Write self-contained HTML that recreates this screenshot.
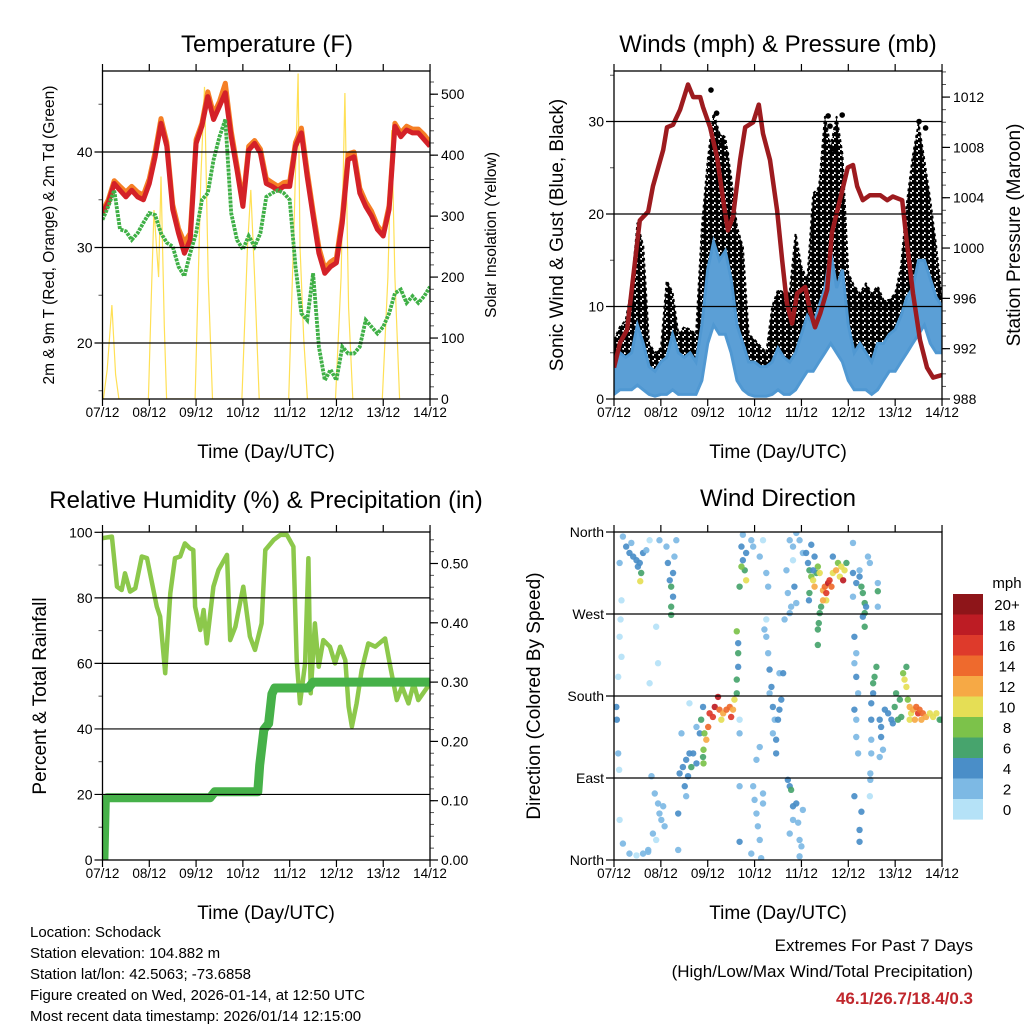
<!DOCTYPE html>
<html><head><meta charset="utf-8"><style>
html,body{margin:0;padding:0;background:#fff;}
#wrap{position:relative;width:1024px;height:1024px;overflow:hidden;font-family:"Liberation Sans",sans-serif;}
svg text{font-family:"Liberation Sans",sans-serif;}
</style></head><body>
<div id="wrap">
<svg id="chart" width="1024" height="1024" viewBox="0 0 1024 1024" xmlns="http://www.w3.org/2000/svg">
<defs>
<clipPath id="c1"><rect x="102.5" y="71" width="327.5" height="328"/></clipPath>
<clipPath id="c2"><rect x="614" y="71" width="328" height="328"/></clipPath>
<clipPath id="c3"><rect x="102.5" y="532" width="327.5" height="328"/></clipPath>
<clipPath id="c4"><rect x="614" y="532" width="328" height="328"/></clipPath>
<pattern id="dots" x="0" y="0" width="6" height="6" patternUnits="userSpaceOnUse">
<circle cx="1.5" cy="1.5" r="2.9" fill="#000"/><circle cx="4.5" cy="4.5" r="2.9" fill="#000"/>
</pattern>
</defs>
<text x="267" y="52" font-size="24" text-anchor="middle">Temperature (F)</text>
<text x="778" y="52" font-size="24" text-anchor="middle">Winds (mph) &amp; Pressure (mb)</text>
<text x="266" y="508" font-size="24" text-anchor="middle">Relative Humidity (%) &amp; Precipitation (in)</text>
<text x="778" y="506" font-size="24" text-anchor="middle">Wind Direction</text>
<text x="266" y="458" font-size="19" text-anchor="middle">Time (Day/UTC)</text>
<text x="778" y="458" font-size="19" text-anchor="middle">Time (Day/UTC)</text>
<text x="266" y="919" font-size="19" text-anchor="middle">Time (Day/UTC)</text>
<text x="778" y="919" font-size="19" text-anchor="middle">Time (Day/UTC)</text>
<text transform="translate(54,235) rotate(-90)" font-size="15.5" text-anchor="middle">2m &amp; 9m T (Red, Orange) &amp; 2m Td (Green)</text>
<text transform="translate(496,235) rotate(-90)" font-size="15.5" text-anchor="middle">Solar Insolation (Yellow)</text>
<text transform="translate(563,235) rotate(-90)" font-size="19" text-anchor="middle">Sonic Wind &amp; Gust (Blue, Black)</text>
<text transform="translate(1020,235) rotate(-90)" font-size="19" text-anchor="middle">Station Pressure (Maroon)</text>
<text transform="translate(46,696) rotate(-90)" font-size="19" text-anchor="middle">Percent &amp; Total Rainfall</text>
<text transform="translate(540,696) rotate(-90)" font-size="19" text-anchor="middle">Direction (Colored By Speed)</text>
<g font-size="15">
<text x="30" y="937">Location: Schodack</text>
<text x="30" y="958">Station elevation: 104.882 m</text>
<text x="30" y="979">Station lat/lon: 42.5063; -73.6858</text>
<text x="30" y="1000">Figure created on Wed, 2026-01-14, at 12:50 UTC</text>
<text x="30" y="1021">Most recent data timestamp: 2026/01/14 12:15:00</text>
</g>
<g font-size="17" text-anchor="end">
<text x="973" y="951">Extremes For Past 7 Days</text>
<text x="973" y="977">(High/Low/Max Wind/Total Precipitation)</text>
<text x="973" y="1004" fill="#c0272d" font-weight="bold">46.1/26.7/18.4/0.3</text>
</g>
</svg>
</div>
<script>
// ---------- data ----------
const dayLabels=["07/12","08/12","09/12","10/12","11/12","12/12","13/12","14/12"];
const tempRed=[33.6,34.7,36.7,36,35.3,36,35.3,35,36.7,39.5,43,40.6,34,31.5,29.4,30.8,40.9,42.7,45.8,43.4,44.8,46.2,41.6,38.1,34.3,40.2,40.9,39.9,36.7,36.4,36,36.4,36.4,40.6,42,37.4,33.3,29.4,27.3,28,28.4,32.6,39.2,39.5,35.7,34.3,33.3,31.9,31.2,34,42.7,41.6,42.3,42,42,41.3,40.6];
const tempOrange=[33.8,35,37,36.4,35.8,36.4,35.8,35.5,37.2,40,43.5,41,34.5,32,30.5,31.5,41.3,43,46.3,44,45.3,47.2,42.2,38.6,34.8,40.6,41.2,40.3,37.2,36.8,36.4,36.8,36.9,41,42.5,38,33.8,30,27.8,28.5,28.9,33.2,39.8,40,36.2,34.8,33.8,32.3,31.5,34.4,43,42,42.7,42.4,42.4,41.8,41];
const dewPoint=[32.9,34.3,36,31.9,31.7,30.8,31.5,32.6,33.6,33.4,31.5,30.5,30.1,28,27,29.4,31.5,35,35.7,39.2,41.6,43.4,33.6,30.8,29.8,31.2,30.1,31.5,35.3,35.7,36,35.7,35,28,23.1,22.4,27.3,19.6,16.1,17.2,16.1,19.6,18.9,18.9,19.6,22.4,21.7,21,21.7,23.1,25.2,25.6,24.2,24.9,24.2,24.9,25.9];
const solarDay=[0.02,0.1,0.2,0.28,0.35,0.98,1.05,1.1,1.2,1.25,1.32,1.37,1.98,2.1,2.18,2.26,2.35,2.98,3.1,3.17,3.25,3.35,3.98,4.1,4.18,4.22,4.3,4.38,4.98,5.1,5.18,5.26,5.35,5.98,6.1,6.18,6.25,6.35];
const solarVal=[0,48,154,40,0,0,184,310,200,365,120,0,0,360,512,200,0,0,250,343,200,0,0,300,534,250,100,0,0,200,502,150,0,0,200,441,200,0];
const windHi=[4,5,4.5,5,8,6,3.5,3,4,4.5,7,5,4.5,5,4,8,14,17,15,16,13,8,6,4,4,3.5,3.5,4,5.5,4.5,4,5,7,9,8,10,12,16,12,14,8,5,6,5,4,6,6,7,7.5,9,11,12,15,15,13,11,10];
const windLo=[0.5,1,1,1,1.5,1,0.5,0.3,0.5,0.5,1,0.5,0.5,0.5,0.5,2,6,8,7,7,5,2,1,0.5,0.3,0.3,0.3,0.5,1,0.5,0.5,1,2,3,3,4,5,6,5,4,2,1,1,1,0.5,1,2,3,3,4,5,6,7,8,6,5,5];
const gustHi=[6.4,7.8,8.5,12,19,16.5,6,5,5.5,12.8,11.5,7,7.8,7.5,7,18.6,25.8,30.9,28.7,28.3,24,18.6,16.4,7,6.4,5.7,5,10,11.8,11.5,11.5,17.9,14.3,12.9,22.2,22.9,30.5,27.3,30.5,26.5,13.6,12.2,11.4,12.5,11.4,12.2,10.7,10.7,11.4,14.3,21.2,26.2,29.8,25.8,21.5,16.5,10.7];
const gustOutDay=[2.07,2.19,4.57,4.87,6.51,6.65,4.61,2.3,2.4,4.7];
const gustOutVal=[33.4,30.9,30.6,30.7,30,29.3,29.5,27.5,26.5,27];
const presDay=[0,0.13,0.28,0.41,0.55,0.73,0.83,1.05,1.13,1.26,1.41,1.58,1.69,1.84,1.9,2.05,2.2,2.33,2.43,2.54,2.69,2.8,2.97,3.09,3.18,3.33,3.48,3.59,3.69,3.8,3.91,4.08,4.18,4.29,4.4,4.55,4.65,4.82,4.99,5.1,5.19,5.31,5.46,5.68,5.83,5.95,6.15,6.25,6.38,6.53,6.68,6.81,7];
const presVal=[990.5,992.5,993.5,997.7,1002.2,1002.9,1004.9,1007.8,1009.6,1009.8,1011,1013,1012,1012,1011.2,1009.6,1007.2,1003.8,1001.4,1002.5,1007,1009.6,1010,1011.4,1009.1,1007,1003,999,995.6,994,996.4,996.9,995.1,993.7,994.8,996.7,1001.2,1003.8,1006.4,1006.6,1004.9,1003.8,1004.2,1004.2,1003.8,1004.1,1003.8,1000.4,996.4,992.7,990.5,989.7,989.9];
const rhDay=[0,0.2,0.31,0.41,0.48,0.59,0.7,0.84,0.95,1.16,1.23,1.34,1.45,1.55,1.66,1.76,1.87,1.94,1.98,2.09,2.16,2.23,2.37,2.48,2.66,2.73,2.84,3.01,3.15,3.26,3.4,3.48,3.66,3.8,3.94,4.08,4.15,4.22,4.33,4.4,4.45,4.54,4.62,4.72,4.86,4.97,5.08,5.19,5.26,5.33,5.43,5.54,5.68,5.83,6.04,6.15,6.29,6.4,6.54,6.65,6.75,7];
const rhVal=[98.2,98.7,83.4,82.4,87.5,81.9,82.9,92.6,92.1,77.3,74.3,57,81.4,92.1,92.6,96.6,95.1,94.6,77.3,70.2,76.3,66.1,83.4,88.5,93.1,67.1,71.2,83.4,68.2,64.1,72.2,94.6,97.7,99.2,99.2,95.6,61,47.8,60,92.1,50.9,72.2,59,67.1,65.1,60,65.1,61,46.8,40.7,47.8,58,66.1,65.1,67.6,59,48.8,52.9,47.8,53.9,48.8,53.9];
const precipDay=[0,0.03,0.06,0.1,2.3,2.4,3.32,3.36,3.45,3.55,3.62,3.68,4.4,4.5,7];
const precipVal=[0,0,0.1,0.105,0.105,0.115,0.115,0.16,0.22,0.23,0.28,0.29,0.29,0.3,0.3];
const speedBins=["0","2","4","6","8","10","12","14","16","18","20+"];
const speedColors=["#b5e2f7","#7db9e4","#4a8ec8","#47a46d","#7cc24a","#e5de55","#f6a945","#ee6a2d","#de3a2b","#bd1c24","#8e1519"];
const windDirObs=[
[.19,355,2],[.26,344,4],[.33,337,4],[.41,333,4],[.48,329,4],[.55,326,4],[.62,337,4],[.69,340,2],[.37,348,2],[.51,322,4],[.58,315,6],[.56,306,10],[.12,326,2],[.16,285,0],[.14,264,0],[.12,245,0],[.16,223,0],[.09,201,0],[.05,168,4],[.06,154,4],[.09,117,2],[.11,99,0],[.12,44,0],[.19,18,2],[.33,7,2],[.48,5,0],[.62,7,2],[.73,9,2],[.76,351,0],[.97,351,2],[.90,256,0],[.94,216,0],[.76,194,0],
[.80,92,2],[.87,73,2],[.94,62,2],[.97,51,2],[1.01,44,2],[.83,29,2],[.90,22,0],[1.05,59,2],[1.08,37,2],[.73,11,2],
[1.12,344,2],[1.15,326,4],[1.19,307,4],[1.22,300,6],[1.26,315,4],[1.29,333,2],[1.22,278,6],[1.22,269,6],[1.33,351,2],[1.26,289,4],
[1.37,51,4],[1.37,11,2],[1.40,95,4],[1.47,102,4],[1.54,110,4],[1.61,117,4],[1.69,117,4],[1.76,106,4],[1.51,81,4],[1.58,92,4],[1.65,102,6],[1.54,70,2],[1.44,139,2],[1.61,172,0],[1.76,146,2],[1.83,139,4],[1.86,154,6],[1.90,168,4],[1.93,139,8],[1.97,132,12],[2.01,146,14],[2.04,161,16],[2.11,157,16],[2.15,168,18],[2.22,179,18],[2.25,165,14],[2.33,161,12],[2.40,165,14],[2.47,168,14],[2.50,157,16],[2.54,165,12],[2.57,176,10],[2.29,154,10],[1.91,121,8],[1.91,106,8],[1.90,113,6],
[2.62,183,6],[2.62,198,6],[2.65,212,4],[2.65,227,6],[2.62,251,8],[2.65,238,4],[2.68,154,0],[2.68,139,2],[2.68,20,4],[2.68,81,2],
[2.72,344,4],[2.75,329,4],[2.79,318,6],[2.82,307,10],[2.72,322,8],[2.82,337,4],[2.68,300,6],[2.75,357,2],[2.93,351,2],[2.97,344,2],
[2.97,81,2],[3.00,66,2],[3.04,51,2],[3.07,37,2],[3.11,22,2],[2.93,7,2],[3.14,2,2],[3.04,110,2],[3.11,124,2],[3.18,62,2],[3.18,73,2],
[3.21,253,2],[3.25,245,2],[3.29,227,2],[3.32,209,4],[3.36,190,4],[3.39,168,4],[3.43,154,2],[3.25,264,0],[3.32,183,2],[3.39,139,2],[3.46,117,4],[3.50,154,4],[3.53,165,4],[3.57,176,4],[3.46,132,4],[3.53,205,2],[3.61,205,4],[3.25,315,2],[3.29,300,2],[3.18,351,0],[3.11,333,2],
[3.71,88,4],[3.75,81,4],[3.78,77,6],[3.82,59,4],[3.89,62,4],[3.93,41,2],[3.96,22,2],[4.00,15,2],[3.96,4,2],[4.03,55,2],[3.75,29,2],[3.82,44,2],
[3.75,351,2],[3.82,344,2],[3.89,359,2],[3.96,351,2],[4.03,337,2],[3.82,329,0],[3.68,318,2],[3.71,293,2],[3.78,278,2],[3.75,271,2],[3.89,282,2],[3.85,300,4],[3.64,264,2],
[4.10,337,4],[4.14,326,4],[4.17,318,6],[4.21,311,8],[4.25,307,10],[4.28,300,12],[4.32,315,6],[4.35,322,8],[4.39,315,10],[4.46,296,12],[4.50,300,14],[4.53,293,16],[4.57,304,18],[4.60,307,16],[4.64,300,14],[4.53,285,10],[4.46,285,12],[4.42,278,6],[4.39,271,6],[4.35,253,6],[4.35,236,6],[4.37,260,6],[4.25,318,4],[4.67,315,10],[4.74,318,12],[4.82,311,10],[4.89,307,18],[4.92,318,10],[4.96,326,6],[4.78,326,8],[4.85,322,10],[4.67,333,4],[4.17,293,6],[4.16,285,4],[4.21,346,4],[4.28,333,4],[5.10,348,2],
[5.10,315,4],[5.17,304,4],[5.24,311,4],[5.28,300,6],[5.31,293,6],[5.35,282,6],[5.35,271,6],[5.35,256,6],[5.38,278,4],[5.31,267,4],[5.42,333,2],[5.46,326,2],[5.63,304,2],[5.63,295,6],[5.63,278,2],[5.10,289,2],[5.24,318,2],
[5.13,245,4],[5.17,227,2],[5.13,216,2],[5.17,201,4],[5.21,183,2],[5.13,165,4],[5.17,154,2],[5.17,135,2],[5.21,117,2],[5.13,70,4],[5.28,53,4],[5.24,33,4],[5.24,20,4],[5.49,154,4],[5.49,172,4],[5.53,194,6],[5.56,201,6],[5.60,212,6],[5.49,132,2],[5.49,117,2],[5.47,95,2],[5.47,88,2],[5.46,70,0],[5.53,183,4],
[5.67,154,4],[5.70,146,4],[5.78,165,4],[5.85,161,4],[5.92,154,4],[5.99,168,6],[6.02,183,6],[6.10,176,6],[6.13,157,6],[6.17,205,8],[6.20,198,10],[6.24,190,10],[6.27,176,8],[6.31,168,12],[6.34,161,10],[6.38,165,12],[6.45,168,14],[6.49,161,16],[6.52,165,14],[6.56,154,12],[6.59,161,14],[6.66,157,12],[6.74,161,10],[6.81,157,10],[6.88,161,10],[6.95,154,6],[6.98,154,6],[6.31,154,10],[6.42,154,12],[5.70,135,4],[5.74,121,2],[5.67,113,2],[6.24,212,6],[5.95,150,4],[6.06,154,6]
];

// ---------- axis functions ----------
const xL=d=>102.5+d*46.79, xR=d=>614+d*46.86;
const yTemp=t=>152+(40-t)*9.55;
const ySolar=v=>399-v*0.6096;
const yWind=v=>399-v*9.25;
const yPres=mb=>399-(mb-988)*12.58;
const yRH=v=>860-v*3.277;
const yPrecip=v=>860-v*593;
const yDir=dg=>860-dg*0.9111;
const tIdx=i=>i/8;

const NS='http://www.w3.org/2000/svg';
const svg=document.getElementById('chart');
function mk(tag,attrs,parent){const e=document.createElementNS(NS,tag);for(const k in attrs)e.setAttribute(k,attrs[k]);(parent||svg).appendChild(e);return e;}
function pts(xs,ys){return xs.map((x,i)=>x.toFixed(1)+','+ys[i].toFixed(1)).join(' ');}

// ---------- frames / ticks ----------
function panel(name,x0,x1,y0,y1,xf,leftTicks,leftMinor,leftF,leftLab,rightTicks,rightMinor,rightF,rightLab,grid){
  const g=mk('g',{});
  
  
  for(let d=0;d<=7;d++){
    const x=xf(d);
    const t1=mk('line',{x1:x,x2:x,y1:y0,y2:y0-7,stroke:'#000','stroke-width':1.2},g);
    
    
    const t2=mk('line',{x1:x,x2:x,y1:y1,y2:y1+7,stroke:'#000','stroke-width':1.2},g);
    
    
    const lb=mk('text',{x:x,y:y1+18,'font-size':13.5,'text-anchor':'middle'},g);
    lb.textContent=dayLabels[d];
    
    
  }
  leftMinor.forEach(v=>{const y=leftF(v);const m=mk('line',{x1:x0,x2:x0-4,y1:y,y2:y,stroke:'#555','stroke-width':1},g);
    
    });
  leftTicks.forEach((v,i)=>{const y=leftF(v);
    const m=mk('line',{x1:x0-8,x2:grid.includes(v)?x1:x0,y1:y,y2:y,stroke:'#000','stroke-width':1.2},g);
    
    
    const lb=mk('text',{x:x0-10,y:y+5,'font-size':14,'text-anchor':'end'},g);
    lb.textContent=leftLab[i];
    
    });
  if(rightTicks){
    rightMinor.forEach(v=>{const y=rightF(v);const m=mk('line',{x1:x1,x2:x1+4,y1:y,y2:y,stroke:'#555','stroke-width':1},g);
      
      });
    rightTicks.forEach((v,i)=>{const y=rightF(v);
      const m=mk('line',{x1:x1,x2:x1+8,y1:y,y2:y,stroke:'#000','stroke-width':1.2},g);
      
      
      const lb=mk('text',{x:x1+11,y:y+5,'font-size':14,'text-anchor':'start'},g);
      lb.textContent=rightLab[i];
      
      });
  }
  const fr=mk('rect',{x:x0,y:y0,width:x1-x0,height:y1-y0,fill:'none',stroke:'#000','stroke-width':1.3},g);
  
  
}
function range(a,b,s){const r=[];for(let v=a;v<=b+1e-9;v+=s)r.push(+v.toFixed(3));return r;}

// ---------- Panel 1 : temperature ----------
const g1=mk('g',{'clip-path':'url(#c1)'});


const sol=mk('polyline',{points:pts(solarDay.map(xL),solarVal.map(ySolar)),fill:'none',stroke:'#ffe055','stroke-width':1.2},g1);


const tIdxs=tempRed.map((v,i)=>xL(tIdx(i)));
const lo=mk('polyline',{points:pts(tIdxs,tempOrange.map(yTemp)),fill:'none',stroke:'#f57f25','stroke-width':5,'stroke-linejoin':'round'},g1);


const lr=mk('polyline',{points:pts(tIdxs,tempRed.map(yTemp)),fill:'none',stroke:'#d42128','stroke-width':5,'stroke-linejoin':'round'},g1);


const ld=mk('polyline',{points:pts(tIdxs,dewPoint.map(yTemp)),fill:'none',stroke:'#3fb046','stroke-width':3.8,'stroke-dasharray':'3 1'},g1);


panel('temperature',102.5,430,71,399,xL,[20,30,40],[15,25,35,45],yTemp,['20','30','40'],
  [0,100,200,300,400,500],range(20,520,20),ySolar,['0','100','200','300','400','500'],[20,30,40]);

// ---------- Panel 2 : wind & pressure ----------
const g2=mk('g',{'clip-path':'url(#c2)'});


const wx=windHi.map((v,i)=>xR(tIdx(i)));
const gustPoly=pts(wx,gustHi.map(yWind))+' '+pts(wx.slice().reverse(),windLo.slice().reverse().map(yWind));
const ga=mk('polygon',{points:gustPoly,fill:'url(#dots)',stroke:'#000','stroke-width':2,'stroke-dasharray':'3 3','stroke-linejoin':'round'},g2);


gustOutDay.forEach((d,i)=>{const c=mk('circle',{cx:xR(d),cy:yWind(gustOutVal[i]),r:2.8,fill:'#000'},g2);
  
  });
const windPoly=pts(wx,windHi.map(yWind))+' '+pts(wx.slice().reverse(),windLo.slice().reverse().map(yWind));
const wa=mk('polygon',{points:windPoly,fill:'#5b9fd6',stroke:'#5098d2','stroke-width':3,'stroke-linejoin':'miter'},g2);


const pl=mk('polyline',{points:pts(presDay.map(xR),presVal.map(yPres)),fill:'none',stroke:'#9d1b1f','stroke-width':4.5,'stroke-linejoin':'round'},g2);


panel('winds',614,942,71,399,xR,[0,10,20,30],[5,15,25,35],yWind,['0','10','20','30'],
  [988,992,996,1000,1004,1008,1012],range(988,1014,1),yPres,['988','992','996','1000','1004','1008','1012'],[10,20,30]);

// ---------- Panel 3 : RH & precip ----------
const g3=mk('g',{'clip-path':'url(#c3)'});


const rl=mk('polyline',{points:pts(rhDay.map(xL),rhVal.map(yRH)),fill:'none',stroke:'#8cc84b','stroke-width':4.5,'stroke-linejoin':'round'},g3);


const pr=mk('polyline',{points:pts(precipDay.map(xL),precipVal.map(yPrecip)),fill:'none',stroke:'#46b149','stroke-width':9,'stroke-linejoin':'round','stroke-linecap':'round'},g3);


panel('humidity',102.5,430,532,860,xL,[0,20,40,60,80,100],[10,30,50,70,90],yRH,['0','20','40','60','80','100'],
  [0,0.1,0.2,0.3,0.4,0.5],range(0.02,0.54,0.02),yPrecip,['0.00','0.10','0.20','0.30','0.40','0.50'],[20,40,60,80]);

// ---------- Panel 4 : wind direction ----------
const g4=mk('g',{'clip-path':'url(#c4)'});


windDirObs.forEach(o=>{const bi=Math.min(10,Math.floor(o[2]/2));
  const c=mk('circle',{cx:xR(o[0]),cy:yDir(o[1]),r:3.2,fill:speedColors[bi],'fill-opacity':0.92},g4);
  
  });
panel('wind-direction',614,942,532,860,xR,[0,90,180,270,360],[],yDir,['North','East','South','West','North'],null,null,null,null,[90,180,270]);

// colorbar
const cb=mk('g',{});


const cbt=mk('text',{x:1007,y:588,'font-size':15,'text-anchor':'middle'},cb);
cbt.textContent='mph';


speedBins.forEach((lab,i)=>{const k=10-i;const y=594+i*20.5;
  const r=mk('rect',{x:953,y:y,width:30,height:20.6,fill:speedColors[k]},cb);
  
  
  const t=mk('text',{x:1007,y:y+16,'font-size':15,'text-anchor':'middle'},cb);
  t.textContent=speedBins[k];
  
  });
</script>
</body></html>
